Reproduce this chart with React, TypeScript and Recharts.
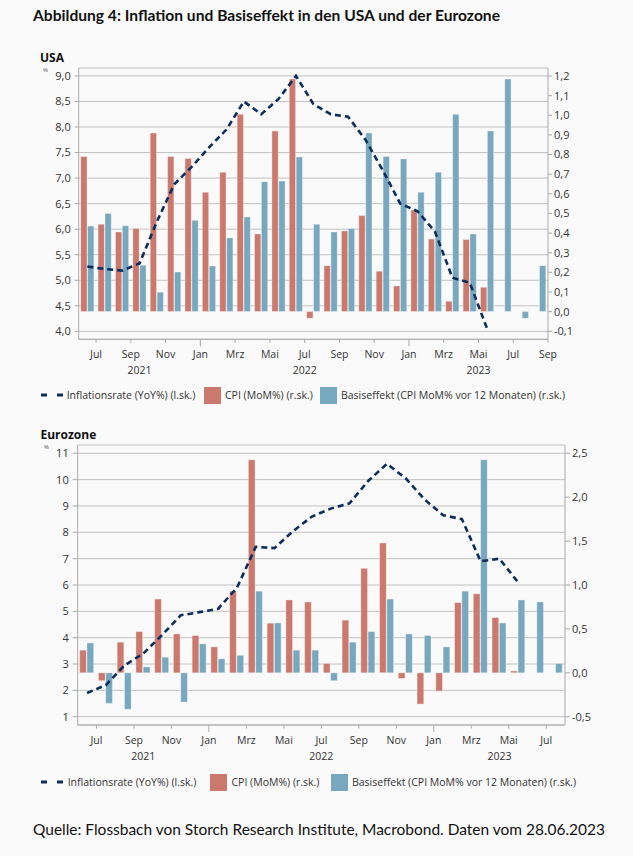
import React from "react";
import { ComposedChart, Bar, Line, XAxis, YAxis, CartesianGrid } from "recharts";

// ---------- DATA ----------
const usaCategories = [
  "2021-06", "2021-07", "2021-08", "2021-09", "2021-10", "2021-11", "2021-12",
  "2022-01", "2022-02", "2022-03", "2022-04", "2022-05", "2022-06", "2022-07",
  "2022-08", "2022-09", "2022-10", "2022-11", "2022-12", "2023-01", "2023-02",
  "2023-03", "2023-04", "2023-05", "2023-06", "2023-07", "2023-08",
];
const usaYoY = [
  5.27, 5.22, 5.19, 5.33, 6.15, 6.88, 7.22, 7.6, 7.95, 8.5, 8.25, 8.55, 9.0, 8.45,
  8.25, 8.2, 7.75, 7.15, 6.5, 6.35, 5.95, 5.05, 4.95, 4.05, null, null, null,
];
const usaCpiMoM = [
  0.79, 0.445, 0.406, 0.423, 0.91, 0.79, 0.78, 0.608, 0.71, 1.005, 0.396, 0.92, 1.185,
  -0.034, 0.234, 0.411, 0.489, 0.206, 0.131, 0.518, 0.37, 0.053, 0.367, 0.124, null, null, null,
];
const usaBase = [
  0.436, 0.5, 0.438, 0.236, 0.099, 0.202, 0.465, 0.233, 0.375, 0.482, 0.662, 0.665, 0.788,
  0.445, 0.406, 0.423, 0.91, 0.79, 0.778, 0.608, 0.71, 1.005, 0.396, 0.92, 1.185, -0.034, 0.234,
];
const usaLeftTicks = [4.0, 4.5, 5.0, 5.5, 6.0, 6.5, 7.0, 7.5, 8.0, 8.5, 9.0];
const usaRightTicks = [-0.1, 0.0, 0.1, 0.2, 0.3, 0.4, 0.5, 0.6, 0.7, 0.8, 0.9, 1.0, 1.1, 1.2];
const usaYears = [
  { label: "2021", first: "2021-06", count: 7 },
  { label: "2022", first: "2022-01", count: 12 },
  { label: "2023", first: "2023-01", count: 8 },
];

const ezCategories = [
  "2021-06", "2021-07", "2021-08", "2021-09", "2021-10", "2021-11", "2021-12",
  "2022-01", "2022-02", "2022-03", "2022-04", "2022-05", "2022-06", "2022-07",
  "2022-08", "2022-09", "2022-10", "2022-11", "2022-12", "2023-01", "2023-02",
  "2023-03", "2023-04", "2023-05", "2023-06", "2023-07",
];
const ezYoY = [
  1.9, 2.2, 2.95, 3.4, 4.1, 4.85, 4.97, 5.1, 5.9, 7.45, 7.4, 8.05, 8.6, 8.9, 9.1, 9.95,
  10.6, 10.05, 9.25, 8.65, 8.5, 6.9, 7.0, 6.1, null, null,
];
const ezCpiMoM = [
  0.258, -0.09, 0.349, 0.47, 0.84, 0.443, 0.425, 0.296, 0.93, 2.425, 0.565, 0.83, 0.807,
  0.106, 0.6, 1.19, 1.477, -0.064, -0.356, -0.208, 0.8, 0.9, 0.63, 0.02, null, null,
];
const ezBase = [
  0.341, -0.348, -0.416, 0.068, 0.178, -0.333, 0.33, 0.16, 0.2, 0.93, 0.568, 0.258, 0.258,
  -0.09, 0.349, 0.47, 0.84, 0.443, 0.425, 0.296, 0.93, 2.425, 0.568, 0.83, 0.807, 0.106,
];
const ezLeftTicks = [1, 2, 3, 4, 5, 6, 7, 8, 9, 10, 11];
const ezRightTicks = [-0.5, 0.0, 0.5, 1.0, 1.5, 2.0, 2.5];
const ezYears = [
  { label: "2021", first: "2021-06", count: 7 },
  { label: "2022", first: "2022-01", count: 12 },
  { label: "2023", first: "2023-01", count: 7 },
];

const MONTHS = ["Jan", "Feb", "Mrz", "Apr", "Mai", "Jun", "Jul", "Aug", "Sep", "Okt", "Nov", "Dez"];

const legendLine = "Inflationsrate (YoY%) (l.sk.)";
const legendCpi = "CPI (MoM%) (r.sk.)";
const legendBase = "Basiseffekt (CPI MoM% vor 12 Monaten) (r.sk.)";

// ---------- STYLE ----------
const RED = "#cb786d";
const BLUE = "#78a8bf";
const NAVY = "#0c2d5e";
const AXIS = "#a9a9a9";
const GRID = "#c2c2c2";
const TXT = "#333333";
const FONT = "'Open Sans', 'Noto Sans', sans-serif";

const de1 = (v: number) => v.toFixed(1).replace(".", ",");
const de0 = (v: number) => String(v);

function buildRows(cats: string[], yoy: (number | null)[], cpi: (number | null)[], base: number[]) {
  return cats.map((m, i) => ({ m, yoy: yoy[i], cpi: cpi[i], base: base[i] }));
}

function MonthTick(props: any) {
  const { x, y, payload, bw, categories, years } = props;
  const value = String(payload.value);
  const idx = categories.indexOf(value);
  const month = Number(value.slice(5));
  const els: any[] = [];
  const boundary = (m: number, bx: number, key: string) => {
    if (m % 2 === 1) {
      els.push(
        <line key={key + "l"} x1={bx} x2={bx} y1={y} y2={y + (m === 1 ? 7 : 3.5)} stroke={AXIS} strokeWidth={1} />
      );
      els.push(
        <text key={key + "t"} x={bx} y={y + 18.5} textAnchor="middle" fontSize={10.5} fill={TXT} fontFamily={FONT}>
          {MONTHS[m - 1]}
        </text>
      );
    }
  };
  boundary(month, x - bw / 2, "a");
  if (idx === categories.length - 1) boundary((month % 12) + 1, x + bw / 2, "b");
  const span = years.find((s: any) => s.first === value);
  if (span) {
    els.push(
      <text key="yr" x={x + ((span.count - 1) / 2) * bw} y={y + 35} textAnchor="middle" fontSize={10.5} fill={TXT} fontFamily={FONT}>
        {span.label}
      </text>
    );
  }
  return <g>{els}</g>;
}

type PanelProps = {
  rows: any[];
  categories: string[];
  years: any[];
  width: number;
  height: number;
  margin: any;
  plotWidth: number;
  leftDomain: [number, number];
  rightDomain: [number, number];
  leftTicks: number[];
  rightTicks: number[];
  leftFmt: (v: number) => string;
  leftTickSize: number;
  leftTickMargin: number;
  rightTickSize: number;
  rightTickMargin: number;
  rightWidth: number;
  barSize: number;
  xHeight: number;
};

function Panel(p: PanelProps) {
  const bw = p.plotWidth / p.categories.length;
  return (
    <ComposedChart
      width={p.width}
      height={p.height}
      data={p.rows}
      margin={p.margin}
      barGap={0.6}
      style={{ fontFamily: FONT }}
    >
      <CartesianGrid yAxisId="l" vertical={false} stroke={GRID} strokeWidth={1} />
      <XAxis
        dataKey="m"
        interval={0}
        tickLine={false}
        tickSize={0}
        tickMargin={0}
        height={p.xHeight}
        axisLine={{ stroke: AXIS }}
        tick={(tp: any) => <MonthTick {...tp} bw={bw} categories={p.categories} years={p.years} />}
      />
      <YAxis
        yAxisId="l"
        orientation="left"
        type="number"
        domain={p.leftDomain}
        allowDataOverflow
        ticks={p.leftTicks}
        interval={0}
        width={40}
        tickSize={p.leftTickSize}
        tickMargin={p.leftTickMargin}
        tickFormatter={p.leftFmt}
        axisLine={{ stroke: AXIS }}
        tickLine={{ stroke: AXIS }}
        tick={{ fontSize: 11, fill: TXT, fontFamily: FONT }}
      />
      <YAxis
        yAxisId="r"
        orientation="right"
        type="number"
        domain={p.rightDomain}
        allowDataOverflow
        ticks={p.rightTicks}
        interval={0}
        width={p.rightWidth}
        tickSize={p.rightTickSize}
        tickMargin={p.rightTickMargin}
        tickFormatter={de1}
        axisLine={{ stroke: AXIS }}
        tickLine={{ stroke: AXIS }}
        tick={{ fontSize: 11, fill: TXT, fontFamily: FONT }}
      />
      <Bar yAxisId="r" dataKey="cpi" fill={RED} barSize={p.barSize} stroke="rgba(255,255,255,0.45)" strokeWidth={0.8} isAnimationActive={false} />
      <Bar yAxisId="r" dataKey="base" fill={BLUE} barSize={p.barSize} stroke="rgba(255,255,255,0.45)" strokeWidth={0.8} isAnimationActive={false} />
      <Line
        yAxisId="l"
        dataKey="yoy"
        type="linear"
        stroke={NAVY}
        strokeWidth={2.6}
        strokeDasharray="6 4"
        dot={false}
        activeDot={false}
        isAnimationActive={false}
      />
    </ComposedChart>
  );
}

function LegendRow(props: { top: number; textX: number; sw1: number; t2: number; sw2: number; t3: number }) {
  const { top, textX, sw1, t2, sw2, t3 } = props;
  const textStyle: React.CSSProperties = {
    position: "absolute",
    top: top - 8,
    fontFamily: FONT,
    fontSize: 10.5,
    color: TXT,
    lineHeight: "16px",
    whiteSpace: "nowrap",
  };
  return (
    <>
      <svg style={{ position: "absolute", left: 38, top: top - 4, overflow: "visible" }} width={28} height={8}>
        <line x1={3} x2={9} y1={4} y2={4} stroke={NAVY} strokeWidth={3} />
        <line x1={19} x2={25} y1={4} y2={4} stroke={NAVY} strokeWidth={3} />
      </svg>
      <div style={{ ...textStyle, left: textX }}>{legendLine}</div>
      <div style={{ position: "absolute", left: sw1, top: top - 8.5, width: 17, height: 17, background: RED }} />
      <div style={{ ...textStyle, left: t2 }}>{legendCpi}</div>
      <div style={{ position: "absolute", left: sw2, top: top - 8.5, width: 17, height: 17, background: BLUE }} />
      <div style={{ ...textStyle, left: t3 }}>{legendBase}</div>
    </>
  );
}

export default function App() {
  const usaRows = buildRows(usaCategories, usaYoY, usaCpiMoM, usaBase);
  const ezRows = buildRows(ezCategories, ezYoY, ezCpiMoM, ezBase);
  return (
    <div
      style={{
        position: "absolute",
        left: 0,
        top: 0,
        width: 633,
        height: 856,
        background: "#fafafa",
        overflow: "hidden",
      }}
    >
      <svg style={{ position: "absolute", left: 0, top: 0 }} width={633} height={856}>
        <text x={33} y={20.7} fontFamily="Lato, sans-serif" fontWeight={700} fontSize={15} fill="#111" textLength={467} lengthAdjust="spacingAndGlyphs">
          Abbildung 4: Inflation und Basiseffekt in den USA und der Eurozone
        </text>
        <text x={40} y={61.7} fontFamily={FONT} fontWeight={700} fontSize={12} fill="#111">USA</text>
        <text x={43} y={72} fontFamily={FONT} fontSize={6} fill="#555">%</text>
        <text x={40.5} y={439} fontFamily={FONT} fontWeight={700} fontSize={12} fill="#111">Eurozone</text>
        <text x={44} y={449} fontFamily={FONT} fontSize={6} fill="#555">%</text>
        <text x={33} y={835} fontFamily="Lato, sans-serif" fontSize={15} fill="#111" textLength={572} lengthAdjust="spacingAndGlyphs">
          Quelle: Flossbach von Storch Research Institute, Macrobond. Daten vom 28.06.2023
        </text>
      </svg>

      <div style={{ position: "absolute", left: 0, top: 0 }}>
        <Panel
          rows={usaRows}
          categories={usaCategories}
          years={usaYears}
          width={633}
          height={384}
          margin={{ top: 68, right: 40, bottom: 2.7, left: 38.7 }}
          plotWidth={469.7}
          leftDomain={[3.845, 9.155]}
          rightDomain={[-0.141, 1.241]}
          leftTicks={usaLeftTicks}
          rightTicks={usaRightTicks}
          leftFmt={de1}
          leftTickSize={4}
          leftTickMargin={4}
          rightTickSize={4}
          rightTickMargin={2}
          rightWidth={45}
          barSize={6.3}
          xHeight={42}
        />
      </div>
      <LegendRow top={395.3} textX={66.7} sw1={204} t2={225} sw2={320} t3={341} />

      <div style={{ position: "absolute", left: 0, top: 400 }}>
        <Panel
          rows={ezRows}
          categories={ezCategories}
          years={ezYears}
          width={633}
          height={370}
          margin={{ top: 45, right: 28, bottom: 2, left: 37.7 }}
          plotWidth={487.3}
          leftDomain={[0.685, 11.315]}
          rightDomain={[-0.594, 2.594]}
          leftTicks={ezLeftTicks}
          rightTicks={ezRightTicks}
          leftFmt={de0}
          leftTickSize={5}
          leftTickMargin={4}
          rightTickSize={5}
          rightTickMargin={2}
          rightWidth={40}
          barSize={6.7}
          xHeight={43}
        />
      </div>
      <LegendRow top={782} textX={67.7} sw1={210} t2={231.5} sw2={331} t3={352} />
    </div>
  );
}
